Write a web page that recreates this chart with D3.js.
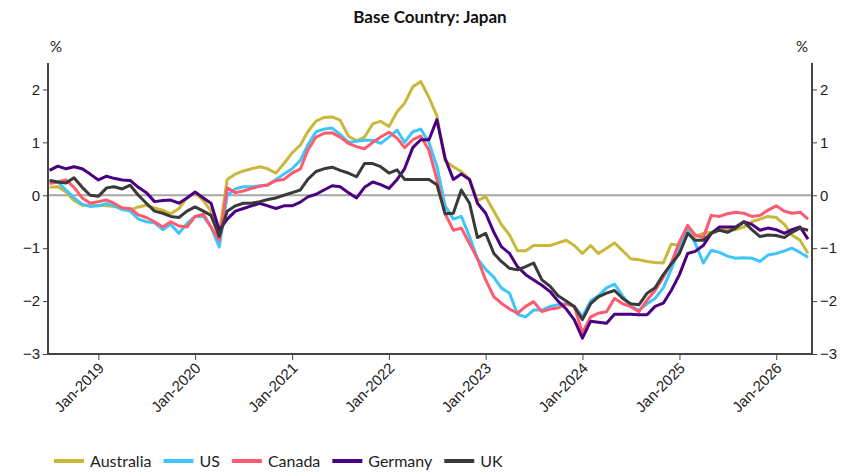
<!DOCTYPE html>
<html>
<head>
<meta charset="utf-8">
<script src="https://cdn.jsdelivr.net/npm/d3@7"></script>
<style>
    body { margin: 0; background: #fff; }
    svg { font-family: Lato, "Open Sans", sans-serif; }
    .axis path, .axis line { stroke: #444; }
    .axis text { fill: #222; }
</style>
</head>
<body>
<svg id="chart"></svg>
<script>
// monthly points, first of month, Jul-2018 .. May-2026
const months = d3.timeMonth.range(new Date(2018, 6, 1), new Date(2026, 5, 1));

const australia = [0.15,0.16,0.06,-0.1,-0.19,-0.2,-0.19,-0.2,-0.21,-0.24,-0.28,-0.22,-0.19,-0.24,-0.28,-0.35,-0.25,-0.05,0.05,-0.1,-0.3,-0.72,
    0.3,0.4,0.46,0.5,0.54,0.5,0.42,0.6,0.8,0.95,1.2,1.4,1.47,1.48,1.42,1.12,1.03,1.1,1.35,1.4,1.3,1.58,1.74,2.05,2.15,1.85,1.5,0.65,
    0.54,0.45,0.3,-0.1,-0.03,-0.3,-0.55,-0.75,-1.05,-1.05,-0.95,-0.95,-0.95,-0.9,-0.85,-0.95,-1.1,-0.95,-1.1,-1.0,-0.9,-1.05,-1.2,-1.22,
    -1.25,-1.27,-1.28,-0.92,-0.95,-0.6,-0.78,-0.72,-0.7,-0.65,-0.65,-0.65,-0.6,-0.5,-0.45,-0.4,-0.42,-0.55,-0.75,-0.85,-1.1];
const us = [0.28,0.25,0.1,-0.05,-0.17,-0.21,-0.2,-0.16,-0.2,-0.27,-0.3,-0.45,-0.5,-0.52,-0.65,-0.55,-0.72,-0.53,-0.4,-0.4,-0.6,-0.98,
    0.0,0.12,0.16,0.16,0.18,0.19,0.3,0.4,0.5,0.66,0.95,1.2,1.25,1.27,1.15,1.0,1.02,1.04,1.04,0.98,1.1,1.23,1.0,1.2,1.25,1.0,0.55,-0.2,
    -0.45,-0.4,-0.78,-1.2,-1.4,-1.55,-1.75,-1.85,-2.25,-2.3,-2.17,-2.17,-2.1,-2.07,-2.05,-2.1,-2.29,-2.0,-1.9,-1.75,-1.68,-1.9,-2.1,-2.17,
    -2.05,-1.95,-1.75,-1.4,-1.0,-0.66,-0.9,-1.28,-1.04,-1.08,-1.15,-1.19,-1.18,-1.19,-1.25,-1.13,-1.1,-1.05,-1.0,-1.08,-1.17];
const canada = [0.22,0.25,0.29,0.15,-0.05,-0.15,-0.12,-0.09,-0.15,-0.24,-0.25,-0.37,-0.42,-0.5,-0.6,-0.5,-0.58,-0.6,-0.4,-0.36,-0.6,-0.85,
    0.14,0.05,0.08,0.13,0.17,0.2,0.28,0.3,0.42,0.5,0.85,1.1,1.17,1.18,1.1,0.98,0.92,0.88,1.0,1.1,1.19,1.08,0.9,1.05,1.12,0.85,0.3,-0.35,
    -0.66,-0.62,-0.91,-1.2,-1.6,-1.92,-2.04,-2.15,-2.23,-2.1,-2.01,-2.2,-2.15,-2.13,-2.05,-2.1,-2.6,-2.3,-2.23,-2.2,-1.95,-2.05,-2.1,-2.2,
    -1.98,-1.8,-1.55,-1.28,-0.88,-0.57,-0.75,-0.8,-0.38,-0.4,-0.35,-0.32,-0.34,-0.4,-0.38,-0.28,-0.2,-0.3,-0.34,-0.32,-0.45];
const germany = [0.47,0.55,0.5,0.54,0.5,0.4,0.29,0.36,0.32,0.29,0.28,0.15,0.05,-0.12,-0.1,-0.09,-0.15,-0.05,0.06,-0.05,-0.15,-0.66,
    -0.45,-0.3,-0.25,-0.2,-0.15,-0.2,-0.25,-0.2,-0.2,-0.13,-0.03,0.02,0.1,0.18,0.16,0.05,-0.05,0.15,0.25,0.2,0.13,0.3,0.5,0.9,1.05,1.05,1.43,0.7,
    0.3,0.4,0.3,-0.15,-0.34,-0.7,-0.97,-1.1,-1.35,-1.5,-1.6,-1.7,-1.82,-2.0,-2.15,-2.35,-2.7,-2.38,-2.4,-2.42,-2.25,-2.25,-2.25,-2.26,
    -2.26,-2.1,-2.04,-1.8,-1.5,-1.1,-1.06,-0.95,-0.72,-0.6,-0.6,-0.6,-0.5,-0.55,-0.66,-0.62,-0.65,-0.72,-0.65,-0.6,-0.83];
const uk = [0.28,0.25,0.23,0.33,0.15,0.0,-0.02,0.14,0.16,0.12,0.19,0.0,-0.15,-0.3,-0.34,-0.4,-0.42,-0.3,-0.22,-0.3,-0.38,-0.78,
    -0.3,-0.2,-0.15,-0.15,-0.12,-0.08,-0.05,0.0,0.05,0.1,0.3,0.45,0.5,0.53,0.47,0.42,0.35,0.6,0.6,0.54,0.42,0.48,0.3,0.3,0.3,0.3,0.2,-0.35,
    -0.34,0.1,-0.15,-0.8,-0.72,-1.1,-1.25,-1.38,-1.41,-1.35,-1.28,-1.6,-1.72,-1.9,-2.0,-2.1,-2.35,-2.05,-1.92,-1.85,-1.8,-1.95,-2.05,-2.07,
    -1.85,-1.75,-1.5,-1.3,-1.1,-0.72,-0.85,-0.85,-0.72,-0.66,-0.7,-0.62,-0.5,-0.65,-0.78,-0.75,-0.76,-0.8,-0.7,-0.62,-0.66];

const seriesNames = ['Australia', 'US', 'Canada', 'Germany', 'UK'];
const seriesValues = [australia, us, canada, germany, uk];
const seriesColors = ['#c9b83a', '#3ec6fb', '#ff5a6e', '#4b0082', '#3a3a3a'];

const tickLabels = ['Jan-2019','Jan-2020','Jan-2021','Jan-2022','Jan-2023','Jan-2024','Jan-2025','Jan-2026'];
const yTicks = [-3, -2, -1, 0, 1, 2];

let graphicopt = {
    width: 846,
    height: 473,
    margin: {top: 63, right: 34, bottom: 119, left: 48},
    widthG: function(){return this.width-this.margin.left-this.margin.right},
    heightG: function(){return this.height-this.margin.top-this.margin.bottom},
};

const svg = d3.select('#chart')
    .attr('width', graphicopt.width)
    .attr('height', graphicopt.height);

svg.append('rect').attr('width', graphicopt.width).attr('height', graphicopt.height).attr('fill', '#fff');

const g = svg.append('g')
    .attr('transform', `translate(${graphicopt.margin.left},${graphicopt.margin.top})`);

const x = d3.scaleTime()
    .domain([new Date(2018, 5, 25), new Date(2026, 4, 16)])
    .range([0, graphicopt.widthG()]);
const y = d3.scaleLinear()
    .domain([-3, 2.5])
    .range([graphicopt.heightG(), 0]);

const parseTick = d3.timeParse('%b-%Y');
const fmt = d => d < 0 ? '\u2212' + Math.abs(d) : d;

// zero line
g.append('line')
    .attr('x1', 0).attr('x2', graphicopt.widthG())
    .attr('y1', y(0)).attr('y2', y(0))
    .attr('stroke', '#a6a6a6').attr('stroke-width', 2);

// lines
const line = d3.line()
    .x((d, i) => x(months[i]))
    .y(d => y(d));

g.selectAll('.series')
    .data(seriesValues)
    .enter()
    .append('path')
    .attr('class', 'series')
    .attr('d', d => line(d))
    .attr('fill', 'none')
    .attr('stroke', (d, i) => seriesColors[i])
    .attr('stroke-width', 3)
    .attr('stroke-linejoin', 'round');

// axes
const yLeft = g.append('g').attr('class', 'axis')
    .call(d3.axisLeft(y).tickValues(yTicks).tickSize(5).tickPadding(3).tickFormat(fmt));
const yRight = g.append('g').attr('class', 'axis')
    .attr('transform', `translate(${graphicopt.widthG()},0)`)
    .call(d3.axisRight(y).tickValues(yTicks).tickSize(5).tickPadding(3).tickFormat(fmt));
[yLeft, yRight].forEach(a => {
    a.select('.domain').attr('d', `M0,0V${graphicopt.heightG()}`).attr('stroke-width', 2);
    a.selectAll('text').style('font-size', '15px');
});

const xAxis = g.append('g').attr('class', 'axis')
    .attr('transform', `translate(0,${graphicopt.heightG()})`)
    .call(d3.axisBottom(x).tickValues(tickLabels.map(parseTick)).tickSize(6)
        .tickFormat((d, i) => tickLabels[i]));
xAxis.select('.domain').attr('d', `M0,0H${graphicopt.widthG()}`).attr('stroke-width', 2);
xAxis.selectAll('text')
    .style('font-size', '15px')
    .style('text-anchor', 'end')
    .attr('dy', null)
    .attr('y', 0)
    .attr('transform', 'translate(6,15) rotate(-45)');

// % labels
svg.append('text').attr('x', 56).attr('y', 52).attr('text-anchor', 'middle')
    .style('font-size', '15px').attr('fill', '#222').text('%');
svg.append('text').attr('x', 802).attr('y', 52).attr('text-anchor', 'middle')
    .style('font-size', '15px').attr('fill', '#222').text('%');

// title
svg.append('text').attr('x', 430).attr('y', 23).attr('text-anchor', 'middle')
    .style('font-size', '17px').style('font-weight', 'bold').attr('fill', '#111')
    .text('Base Country: Japan');

// legend
const legend = svg.append('g').attr('transform', 'translate(54,461)');
let lx = 0;
seriesNames.forEach((name, i) => {
    const item = legend.append('g').attr('transform', `translate(${lx},0)`);
    item.append('line').attr('x1', 0).attr('x2', 30).attr('y1', 0).attr('y2', 0)
        .attr('stroke', seriesColors[i]).attr('stroke-width', 4);
    const t = item.append('text').attr('x', 36).attr('y', 6)
        .style('font-size', '16px').attr('fill', '#222').text(name);
    lx += 36 + t.node().getComputedTextLength() + 12;
});
</script>
</body>
</html>
